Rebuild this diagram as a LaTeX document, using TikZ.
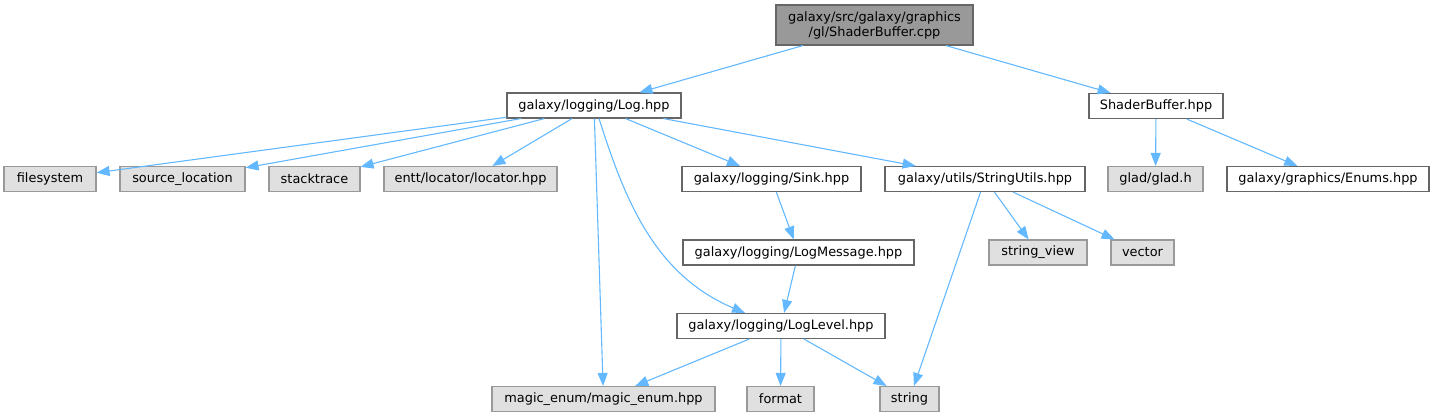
\documentclass[tikz,border=0pt]{standalone}
\usepackage{fontspec}
\setmainfont{DejaVu Sans}
\usetikzlibrary{arrows.meta}
\definecolor{edgeblue}{HTML}{63B8FF}
\definecolor{nodegray}{HTML}{666666}
\definecolor{sysgray}{HTML}{999999}
\definecolor{sysfill}{HTML}{E0E0E0}
\definecolor{rootfill}{HTML}{999999}

\begin{document}
\begin{tikzpicture}[x=1pt, y=-1pt,
    header/.style ={rectangle, draw=nodegray, line width=1.1pt, inner sep=0pt,
      minimum height=25pt, font=\fontsize{12.9}{15}\selectfont},
    sysheader/.style ={header, fill=sysfill, draw=sysgray},
    rootfile/.style ={header, fill=rootfill, minimum height=40pt, align=center},
    incl/.style ={draw=edgeblue, line width=1.1pt, -{Triangle[length=13pt,width=10pt]}}]
   \useasboundingbox (0,0) rectangle (1434,417);
   \node[rootfile, minimum width=197pt] (cpp) at (874.5,25) {galaxy/src/galaxy/graphics\\/gl/ShaderBuffer.cpp};
   \node[header, minimum width=174pt] (Log) at (594,105.5) {galaxy/logging/Log.hpp};
   \node[header, minimum width=134pt] (ShaderBuffer) at (1156,106) {ShaderBuffer.hpp};
   \node[sysheader, minimum width=92pt] (filesystem) at (50,179) {filesystem};
   \node[sysheader, minimum width=125pt] (sourceloc) at (182.5,179) {source\_location};
   \node[sysheader, minimum width=91pt] (stacktrace) at (314.5,179) {stacktrace};
   \node[sysheader, minimum width=173pt] (locator) at (470.5,179) {entt/locator/locator.hpp};
   \node[header, minimum width=179pt] (Sink) at (771.5,179) {galaxy/logging/Sink.hpp};
   \node[header, minimum width=200pt] (StringUtils) at (985,179) {galaxy/utils/StringUtils.hpp};
   \node[sysheader, minimum width=95pt] (glad) at (1155.5,179) {glad/glad.h};
   \node[header, minimum width=202pt] (Enums) at (1328,179) {galaxy/graphics/Enums.hpp};
   \node[header, minimum width=231pt] (LogMessage) at (798.5,252.5) {galaxy/logging/LogMessage.hpp};
   \node[sysheader, minimum width=98pt] (stringview) at (1038,252.5) {string\_view};
   \node[sysheader, minimum width=63pt] (vector) at (1142.5,252.5) {vector};
   \node[header, minimum width=208pt] (LogLevel) at (781,326) {galaxy/logging/LogLevel.hpp};
   \node[sysheader, minimum width=223pt] (magicenum) at (603.5,399) {magic\_enum/magic\_enum.hpp};
   \node[sysheader, minimum width=67pt] (format) at (780.5,399) {format};
   \node[sysheader, minimum width=59pt] (string) at (909.5,399) {string};
   \draw[incl] (cpp) -- (Log);
   \draw[incl] (cpp) -- (ShaderBuffer);
   \draw[incl] (Log) -- (filesystem);
   \draw[incl] (Log) -- (sourceloc);
   \draw[incl] (Log) -- (stacktrace);
   \draw[incl] (Log) -- (locator);
   \draw[incl] (Log) -- (magicenum);
   \draw[incl] ([xshift=5pt]Log.south) .. controls +(26,82) and +(-90,-38) .. ([xshift=-36pt]LogLevel.north);
   \draw[incl] (Log) -- (Sink);
   \draw[incl] (Log) -- (StringUtils);
   \draw[incl] (ShaderBuffer) -- (glad);
   \draw[incl] (ShaderBuffer) -- (Enums);
   \draw[incl] (Sink) -- (LogMessage);
   \draw[incl] (LogMessage) -- (LogLevel);
   \draw[incl] (StringUtils) -- (stringview);
   \draw[incl] (StringUtils) -- (vector);
   \draw[incl] (StringUtils) -- (string);
   \draw[incl] (LogLevel) -- (magicenum);
   \draw[incl] (LogLevel) -- (format);
   \draw[incl] (LogLevel) -- (string);
 \end{tikzpicture}
\end{document}
